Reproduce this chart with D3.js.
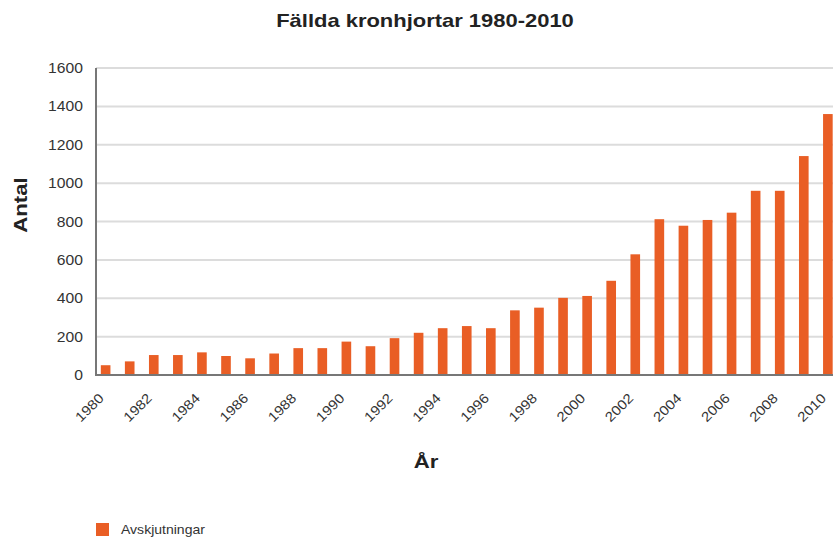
<!DOCTYPE html>
<html>
<head>
<meta charset="utf-8">
<script src="https://cdn.jsdelivr.net/npm/d3@7"></script>
<style>
  body { margin: 0; background: #fff; }
  svg { font-family: "Liberation Sans", Arial, sans-serif; }
</style>
</head>
<body>
<svg id="chart" width="833" height="539"></svg>
<script>
// Data
const years = [1980, 1981, 1982, 1983, 1984, 1985, 1986, 1987, 1988, 1989,
               1990, 1991, 1992, 1993, 1994, 1995, 1996, 1997, 1998, 1999,
               2000, 2001, 2002, 2003, 2004, 2005, 2006, 2007, 2008, 2009, 2010];
const avskjutningar = [51, 71, 104, 104, 118, 99, 87, 112, 140, 140,
                       174, 150, 192, 220, 244, 255, 244, 337, 351, 402,
                       412, 491, 629, 812, 778, 808, 846, 960, 960, 1141, 1360];
const yTicks = [0, 200, 400, 600, 800, 1000, 1200, 1400, 1600];
const xTickYears = years.filter(y => y % 2 === 0);

const svg = d3.select("#chart");
const orange = "#e95e25";
// the source picture is a bit wider than tall, so text is stretched sideways
const stretch = 1.17;

// Scales
const x = d3.scaleBand()
    .domain(years)
    .range([96, 837.5])
    .paddingInner(0.6)
    .paddingOuter(0.2);

const y = d3.scaleLinear()
    .domain([0, 1600])
    .range([375, 68]);

// Gridlines
svg.append("g")
    .selectAll("line")
    .data(yTicks.filter(t => t > 0))
    .join("line")
    .attr("x1", 96)
    .attr("x2", 833)
    .attr("y1", d => y(d))
    .attr("y2", d => y(d))
    .attr("stroke", "#dcdcdc")
    .attr("stroke-width", 2);

// Bars
svg.append("g")
    .selectAll("rect")
    .data(years)
    .join("rect")
    .attr("x", d => x(d))
    .attr("width", x.bandwidth())
    .attr("y", (d, i) => y(avskjutningar[i]))
    .attr("height", (d, i) => y(0) - y(avskjutningar[i]))
    .attr("fill", orange);

// Axis lines
svg.append("line")
    .attr("x1", 96).attr("x2", 96)
    .attr("y1", y(1600)).attr("y2", y(0))
    .attr("stroke", "#777").attr("stroke-width", 2);
svg.append("line")
    .attr("x1", 95).attr("x2", 833)
    .attr("y1", y(0)).attr("y2", y(0))
    .attr("stroke", "#777").attr("stroke-width", 2);

// Y tick labels
svg.append("g")
    .selectAll("text")
    .data(yTicks)
    .join("text")
    .attr("text-anchor", "end")
    .attr("font-size", 14)
    .attr("fill", "#333")
    .attr("transform", d => `translate(83,${y(d) + 5}) scale(1.12,1)`)
    .text(d => d);

// X tick labels (rotated)
svg.append("g")
    .selectAll("text")
    .data(xTickYears)
    .join("text")
    .attr("text-anchor", "end")
    .attr("font-size", 13.5)
    .attr("fill", "#333")
    .attr("transform", d => `translate(${x(d) + x.bandwidth() / 2 - 1},399) rotate(-45) scale(1.12,1)`)
    .text(d => d);

// Title
svg.append("text")
    .attr("transform", `translate(425,27) scale(1.22,1)`)
    .attr("text-anchor", "middle")
    .attr("font-size", 18)
    .attr("font-weight", "bold")
    .attr("fill", "#222")
    .text("Fällda kronhjortar 1980-2010");

// Axis titles
svg.append("text")
    .attr("transform", `translate(27,205) rotate(-90) scale(${stretch},1)`)
    .attr("text-anchor", "middle")
    .attr("font-size", 19)
    .attr("font-weight", "bold")
    .attr("fill", "#222")
    .text("Antal");

svg.append("text")
    .attr("transform", `translate(426,468) scale(${stretch},1)`)
    .attr("text-anchor", "middle")
    .attr("font-size", 19)
    .attr("font-weight", "bold")
    .attr("fill", "#222")
    .text("År");

// Legend
const legend = svg.append("g").attr("transform", "translate(96,523)");
legend.append("rect")
    .attr("width", 13).attr("height", 13)
    .attr("fill", orange);
legend.append("text")
    .attr("transform", `translate(25,11) scale(${stretch},1)`)
    .attr("font-size", 12)
    .attr("fill", "#333")
    .text("Avskjutningar");
</script>
</body>
</html>
